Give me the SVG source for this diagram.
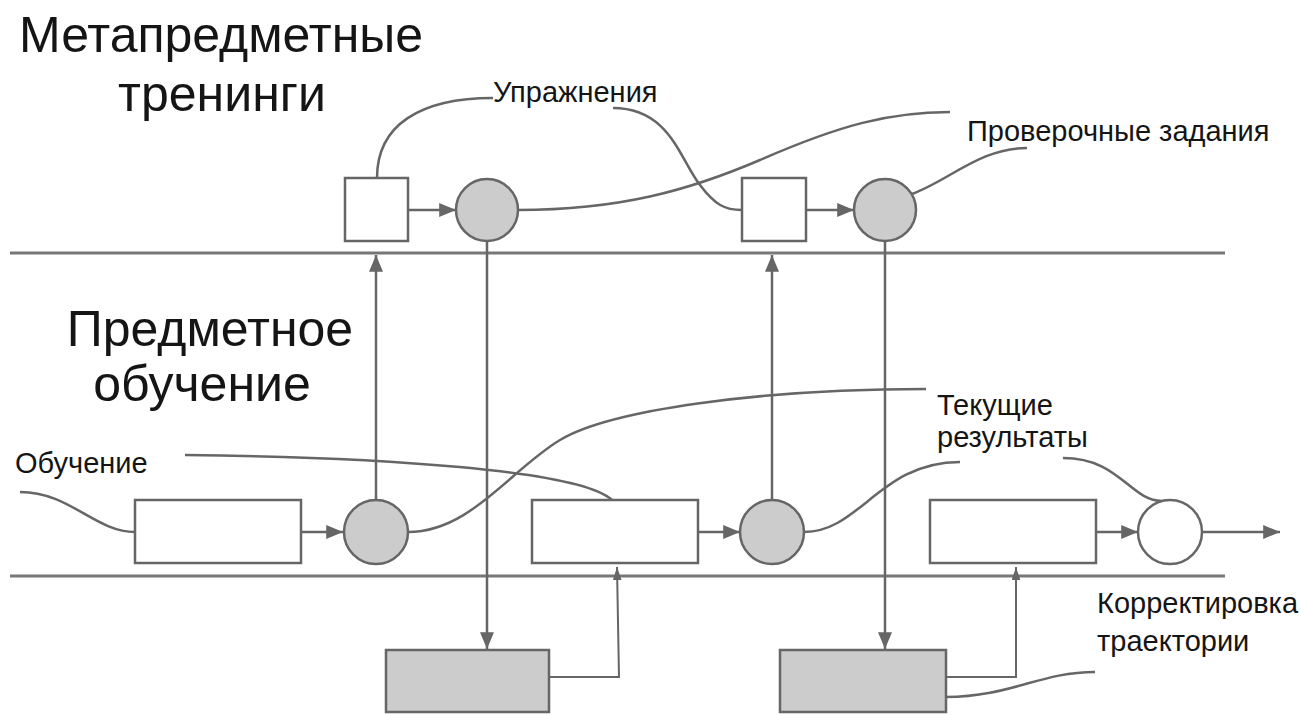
<svg xmlns="http://www.w3.org/2000/svg" width="1301" height="715" viewBox="0 0 1301 715">
<style>
.t{font-family:"Liberation Sans",Arial,sans-serif;fill:#151515}
.big{font-size:50px}
.lbl{font-size:29px}
.ln{fill:none;stroke:#666;stroke-width:2.5}
.sep{fill:none;stroke:#777;stroke-width:3}
.nd{stroke:#666;stroke-width:2.5}
.w{fill:#fff}
.g{fill:#cccccc}
</style>
<defs>
<marker id="ah" viewBox="0 0 12 10" refX="12" refY="5" markerWidth="7" markerHeight="5.6" orient="auto" markerUnits="strokeWidth"><path d="M0,0 L12,5 L0,10 z" fill="#666"/></marker>
<marker id="ahs" viewBox="0 0 12 8" refX="12" refY="4" markerWidth="6.5" markerHeight="4.5" orient="auto" markerUnits="strokeWidth"><path d="M0,0 L12,4 L0,8 z" fill="#666"/></marker>
</defs>
<g id="titles">
<text class="t big" x="221" y="52" text-anchor="middle">Метапредметные</text>
<text class="t big" x="222" y="111" text-anchor="middle">тренинги</text>
<text class="t big" x="210" y="346" text-anchor="middle">Предметное</text>
<text class="t big" x="202" y="401" text-anchor="middle">обучение</text>
</g>
<g id="separators">
<line class="sep" x1="10" y1="253" x2="1225" y2="253"/>
<line class="sep" x1="10" y1="576" x2="1225" y2="576"/>
</g>
<g id="connectors">
<path class="ln" d="M377,178 C377,125 420,98 493,98"/>
<path class="ln" d="M613,108 C670,108 680,160 700,185 C715,205 725,210 742,210"/>
<path class="ln" d="M518,210 C620,210 690,190 760,160 C840,125 890,112 950,112"/>
<path class="ln" d="M912,194 C950,180 980,148 1027,148"/>
<path class="ln" d="M408,210 L456,210" marker-end="url(#ah)"/>
<path class="ln" d="M806,210 L854,210" marker-end="url(#ah)"/>
<path class="ln" d="M20,492 C70,492 95,532 135,532"/>
<path class="ln" d="M185,455 C380,457 580,470 612,500"/>
<path class="ln" d="M408,532 C470,532 510,470 560,440 C610,410 760,389 926,389"/>
<path class="ln" d="M804,532 C860,532 880,462 960,462"/>
<path class="ln" d="M1063,458 C1120,458 1130,501 1162,501"/>
<path class="ln" d="M301,532 L343,532" marker-end="url(#ah)"/>
<path class="ln" d="M698,532 L740,532" marker-end="url(#ah)"/>
<path class="ln" d="M1096,532 L1138,532" marker-end="url(#ah)"/>
<path class="ln" d="M1202,532 L1280,532" marker-end="url(#ah)"/>
<path class="ln" d="M376,500 L376,255" marker-end="url(#ah)"/>
<path class="ln" d="M772,500 L772,255" marker-end="url(#ah)"/>
<path class="ln" d="M487,241 L487,649" marker-end="url(#ah)"/>
<path class="ln" d="M885,241 L885,649" marker-end="url(#ah)"/>
<path class="ln" d="M549,677 L619,677 L617,567" marker-end="url(#ahs)" style="stroke-width:2"/>
<path class="ln" d="M946,677 L1016,677 L1016,567" marker-end="url(#ahs)" style="stroke-width:2"/>
<path class="ln" d="M946,697 C1010,697 1040,672 1095,672"/>
</g>
<g id="labels">
<text class="t lbl" x="493" y="102">Упражнения</text>
<text class="t lbl" x="967" y="141">Проверочные задания</text>
<text class="t lbl" x="15" y="473">Обучение</text>
<text class="t lbl" x="937" y="415">Текущие</text>
<text class="t lbl" x="937" y="447">результаты</text>
<text class="t lbl" x="1097" y="613">Корректировка</text>
<text class="t lbl" x="1097" y="651">траектории</text>
</g>
<g id="sq1"><rect class="nd w" x="345" y="178" width="63" height="63"/></g>
<g id="c1"><circle class="nd g" cx="487" cy="210" r="31"/></g>
<g id="sq2"><rect class="nd w" x="742" y="178" width="64" height="63"/></g>
<g id="c2"><circle class="nd g" cx="885" cy="210" r="31"/></g>
<g id="r1"><rect class="nd w" x="135" y="500" width="166" height="63"/></g>
<g id="c3"><circle class="nd g" cx="376" cy="532" r="32"/></g>
<g id="r2"><rect class="nd w" x="532" y="500" width="166" height="63"/></g>
<g id="c4"><circle class="nd g" cx="772" cy="532" r="32"/></g>
<g id="r3"><rect class="nd w" x="930" y="500" width="166" height="63"/></g>
<g id="c5"><circle class="nd w" cx="1170" cy="532" r="32"/></g>
<g id="b1"><rect class="nd g" x="386" y="650" width="163" height="62"/></g>
<g id="b2"><rect class="nd g" x="780" y="650" width="166" height="62"/></g>
</svg>
